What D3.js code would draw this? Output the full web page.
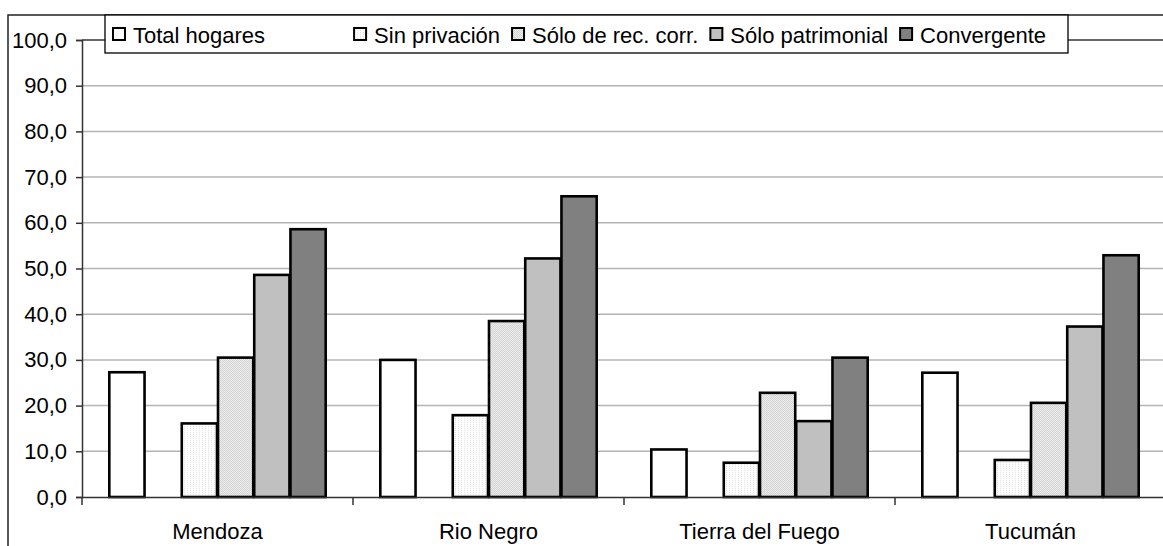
<!DOCTYPE html>
<html><head><meta charset="utf-8">
<script src="https://cdn.jsdelivr.net/npm/d3@7"></script>
<style>body{margin:0;background:#fff;overflow:hidden} text{font-family:"Liberation Sans",Arial,sans-serif;fill:#000}</style>
</head><body><svg id="c" width="1163" height="546"></svg>
<script>
const categories = ["Mendoza", "Rio Negro", "Tierra del Fuego", "Tucumán"];
const seriesNames = ["Total hogares", "Sin privación", "Sólo de rec. corr.", "Sólo patrimonial", "Convergente"];
const totalHogares = [27.3, 30.0, 10.4, 27.2];
const sinPrivacion = [16.1, 17.9, 7.5, 8.1];
const soloRecCorr = [30.5, 38.5, 22.8, 20.6];
const soloPatrimonial = [48.6, 52.2, 16.6, 37.3];
const convergente = [58.6, 65.8, 30.5, 52.9];
const yTicks = [0, 10, 20, 30, 40, 50, 60, 70, 80, 90, 100];

const seriesValues = [totalHogares, sinPrivacion, soloRecCorr, soloPatrimonial, convergente];
const fills = ["#ffffff", "url(#pSin)", "url(#pRec)", "#c0c0c0", "#808080"];
// slot layout: Total hogares, empty slot, then the four other series
const slots = [seriesNames[0], "__gap", ...seriesNames.slice(1)];
const FONT = "22px";

const svg = d3.select("#c");
const defs = svg.append("defs");
const p1 = defs.append("pattern").attr("id", "pSin").attr("width", 3).attr("height", 2).attr("patternUnits", "userSpaceOnUse");
p1.append("rect").attr("width", 3).attr("height", 2).attr("fill", "#fdfdfd");
p1.append("rect").attr("x", 0).attr("y", 0).attr("width", 1).attr("height", 1).attr("fill", "#e2e2e2");
const p2 = defs.append("pattern").attr("id", "pRec").attr("width", 2).attr("height", 2).attr("patternUnits", "userSpaceOnUse");
p2.append("rect").attr("width", 2).attr("height", 2).attr("fill", "#ececec");
p2.append("rect").attr("x", 0).attr("y", 0).attr("width", 1).attr("height", 1).attr("fill", "#d4d4d4");
p2.append("rect").attr("x", 1).attr("y", 1).attr("width", 1).attr("height", 1).attr("fill", "#d4d4d4");

const L = 82, R = 1166, T = 40, B = 497;
const x0 = d3.scaleBand().domain(categories).range([L, R]).padding(0);
const x1 = d3.scaleBand().domain(slots).range([0, x0.bandwidth()]).paddingInner(0).paddingOuter(0.74);
const y = d3.scaleLinear().domain([0, 100]).range([B, T]);

// outer chart frame
svg.append("rect").attr("x", 8).attr("y", 15).attr("width", 1300).attr("height", 700)
  .attr("fill", "none").attr("stroke", "#222").attr("stroke-width", 1.5);

// gridlines
svg.append("g").selectAll("line").data(yTicks.filter(d => d > 0 && d < 100)).join("line")
  .attr("x1", L).attr("x2", R).attr("y1", d => y(d)).attr("y2", d => y(d))
  .attr("stroke", "#b4b4b4").attr("stroke-width", 1.5);
// plot area top border
svg.append("line").attr("x1", L).attr("x2", R).attr("y1", y(100)).attr("y2", y(100))
  .attr("stroke", "#333").attr("stroke-width", 1.5);

// bars
const groups = svg.append("g").selectAll("g").data(categories).join("g")
  .attr("transform", d => `translate(${x0(d)},0)`);
seriesNames.forEach((s, si) => {
  groups.append("rect")
    .attr("x", x1(s) + 0.5)
    .attr("width", x1.bandwidth() - 1)
    .attr("y", (c, ci) => y(seriesValues[si][ci]))
    .attr("height", (c, ci) => y(0) - y(seriesValues[si][ci]))
    .attr("fill", fills[si]).attr("stroke", "#000").attr("stroke-width", 2.6);
});

// y axis
const yAxis = d3.axisLeft(y).tickValues(yTicks).tickSize(6).tickPadding(9)
  .tickFormat(d => d3.format(".1f")(d).replace(".", ","));
const ga = svg.append("g").attr("transform", `translate(${L},0)`).call(yAxis);
ga.select(".domain").attr("stroke", "#333").attr("stroke-width", 1.5);
ga.selectAll(".tick line").attr("stroke", "#333").attr("stroke-width", 1.5);
ga.selectAll(".tick text").attr("font-size", FONT).attr("font-family", '"Liberation Sans",Arial,sans-serif').attr("fill", "#000");

// x axis
const xAxis = d3.axisBottom(x0).tickSize(0).tickPadding(26);
const gx = svg.append("g").attr("transform", `translate(0,${B})`).call(xAxis);
gx.select(".domain").attr("stroke", "#333").attr("stroke-width", 1.5);
gx.selectAll(".tick text").attr("font-size", FONT).attr("font-family", '"Liberation Sans",Arial,sans-serif').attr("fill", "#000");
// category boundary ticks
svg.append("g").selectAll("line").data(categories).join("line")
  .attr("x1", d => x0(d)).attr("x2", d => x0(d)).attr("y1", B).attr("y2", B + 8)
  .attr("stroke", "#333").attr("stroke-width", 1.5);

// legend
const lg = svg.append("g");
lg.append("rect").attr("x", 105).attr("y", 15).attr("width", 963).attr("height", 38)
  .attr("fill", "#fff").attr("stroke", "#000").attr("stroke-width", 1.3);
let lx = 113;
const legendGapExtra = [77, 0, 0, 0, 0];
seriesNames.forEach((s, i) => {
  lg.append("rect").attr("x", lx).attr("y", 28).attr("width", 12).attr("height", 12)
    .attr("fill", fills[i]).attr("stroke", "#000").attr("stroke-width", 2);
  const t = lg.append("text").attr("x", lx + 20).attr("y", 43).attr("font-size", FONT).text(s);
  const w = t.node().getComputedTextLength();
  lx = lx + 20 + w + 12 + legendGapExtra[i];
});
</script></body></html>
